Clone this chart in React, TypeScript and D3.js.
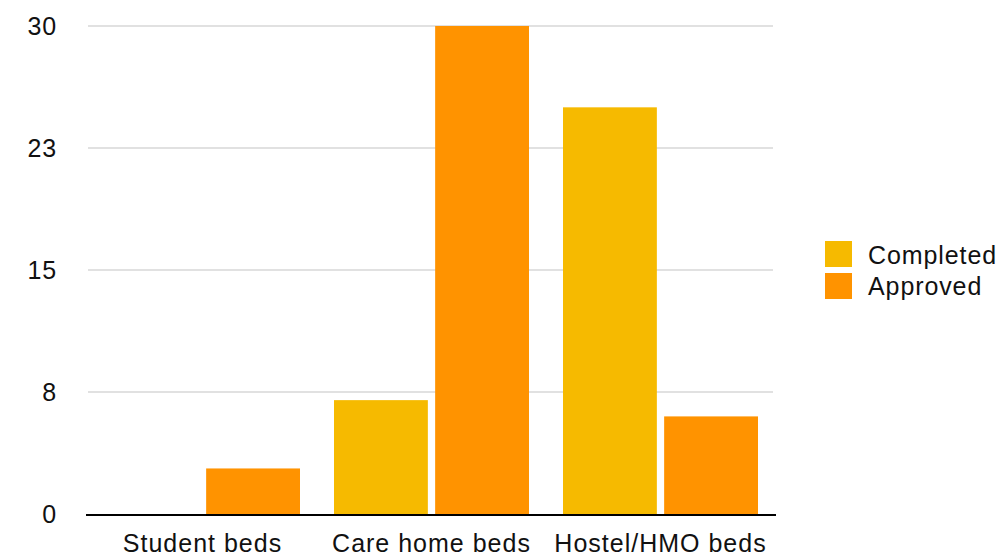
import React from "react";
import * as d3 from "d3";

const categories = ["Student beds", "Care home beds", "Hostel/HMO beds"];
const seriesNames = ["Completed", "Approved"];
const completed = [0, 7, 25];
const approved = [2.8, 30, 6];
const tickValues = [0, 7.5, 15, 22.5, 30];
const tickLabels = ["0", "8", "15", "23", "30"];
const colors = ["#F6BA00", "#FF9300"];

const W = 1004;
const H = 556;
const plot = { left: 88, right: 775, top: 26, bottom: 514 };
const FONT = "'Liberation Sans', Arial, sans-serif";

export default function App() {
  const x0 = d3
    .scaleBand<string>()
    .domain(categories)
    .range([plot.left, plot.right])
    .paddingInner(34 / 229)
    .paddingOuter(17 / 229);
  const x1 = d3
    .scaleBand<string>()
    .domain(seriesNames)
    .range([0, x0.bandwidth()])
    .paddingInner(7 / 97);
  const y = d3.scaleLinear().domain([0, 30]).range([plot.bottom, plot.top]);
  const values = [completed, approved];

  return (
    <svg
      width={W}
      height={H}
      style={{ position: "absolute", left: 0, top: 0, display: "block", background: "#fff" }}
    >
      {tickValues.map((t, i) => (
        <g key={i}>
          {i > 0 && (
            <line
              x1={plot.left}
              x2={plot.right - 2}
              y1={y(t)}
              y2={y(t)}
              stroke="#c4c4c4"
              strokeWidth={1.2}
            />
          )}
          <text
            x={57}
            y={y(t)}
            textAnchor="end"
            dominantBaseline="central"
            fontFamily={FONT}
            fontSize={25}
            letterSpacing={0.8}
            fill="#111"
          >
            {tickLabels[i]}
          </text>
        </g>
      ))}
      {categories.map((c, ci) =>
        seriesNames.map((s, si) => {
          const v = values[si][ci];
          if (v <= 0) return null;
          return (
            <rect
              key={c + s}
              x={(x0(c) ?? 0) + (x1(s) ?? 0)}
              y={y(v)}
              width={x1.bandwidth()}
              height={y(0) - y(v)}
              fill={colors[si]}
            />
          );
        })
      )}
      <line x1={86} x2={776} y1={plot.bottom + 1} y2={plot.bottom + 1} stroke="#000" strokeWidth={2.2} />
      {categories.map((c) => (
        <text
          key={c}
          x={(x0(c) ?? 0) + x0.bandwidth() / 2}
          y={552}
          textAnchor="middle"
          fontFamily={FONT}
          fontSize={25}
          letterSpacing={1}
          fill="#111"
        >
          {c}
        </text>
      ))}
      {seriesNames.map((s, i) => (
        <g key={s}>
          <rect x={825} y={241 + i * 32} width={27} height={26} fill={colors[i]} />
          <text
            x={868}
            y={255 + i * 31}
            dominantBaseline="central"
            fontFamily={FONT}
            fontSize={25}
            letterSpacing={0.9}
            fill="#111"
          >
            {s}
          </text>
        </g>
      ))}
    </svg>
  );
}
